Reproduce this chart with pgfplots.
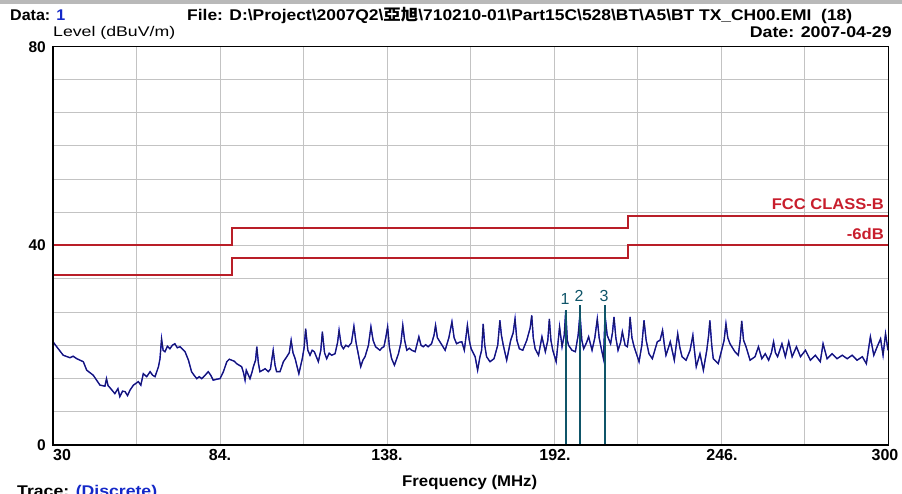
\documentclass[border=0pt]{standalone}
\usepackage{pgfplots}
\pgfplotsset{compat=1.18}
\usepackage{fontspec}
\usepackage{graphicx}
\setmainfont{Liberation Sans}
\newfontfamily\cjk{Noto Sans CJK TC}
\definecolor{limred}{RGB}{185,30,40}
\definecolor{txtred}{RGB}{200,30,45}
\definecolor{trace}{RGB}{25,25,95}
\definecolor{traceb}{RGB}{30,30,220}
\definecolor{mk}{RGB}{15,85,105}
\definecolor{grd}{RGB}{195,195,195}
\definecolor{dblue}{RGB}{20,40,200}
\newcommand{\fitw}[2]{\resizebox{#1}{\height}{#2}}

\pgfplotstableread{
f l
30.0 20.7
31.2 19.7
33.3 18.0
35.5 17.5
36.5 17.8
37.7 17.3
39.8 16.7
40.9 15.0
43.0 14.0
45.2 12.0
46.8 11.8
47.3 13.3
47.8 11.9
48.4 11.5
50.0 10.3
51.0 11.3
51.6 9.7
52.5 10.8
53.3 10.7
54.1 9.9
54.9 11.0
56.0 12.0
57.6 12.7
58.4 12.0
59.2 14.3
60.3 13.7
61.4 14.7
62.2 14.0
63.0 13.7
64.1 15.7
64.6 17.3
65.1 21.3
65.6 19.0
66.2 18.7
67.0 19.8
67.8 19.3
68.6 20.0
69.4 20.3
70.2 19.5
71.1 19.7
72.7 18.7
73.8 17.0
74.8 14.7
75.6 14.0
76.5 13.3
77.3 13.7
78.1 13.3
79.2 14.0
80.2 14.7
81.0 14.0
81.8 13.0
83.0 13.2
84.0 13.3
85.1 14.7
86.2 16.7
87.0 17.2
87.8 17.0
88.6 16.8
89.4 16.3
90.2 16.0
91.0 15.7
91.6 14.5
92.1 13.0
92.5 15.0
93.7 13.3
94.3 14.5
94.8 15.7
95.5 17.0
95.9 19.7
96.4 16.5
96.9 14.7
97.8 15.0
98.6 15.3
99.6 14.7
100.3 15.2
101.2 19.0
101.8 16.0
102.3 14.7
103.4 14.7
104.5 16.7
105.6 17.7
106.4 18.5
107.0 21.0
107.6 18.5
108.3 17.3
109.5 14.3
110.6 17.3
111.2 19.5
111.7 23.3
112.4 19.0
113.1 18.0
113.8 19.0
114.5 18.7
115.8 16.7
116.6 19.0
117.1 22.7
117.8 18.5
118.5 17.3
119.3 18.4
120.1 18.0
121.2 18.3
122.0 20.5
122.5 23.0
123.2 20.0
123.9 19.3
124.7 20.0
125.5 19.7
126.5 20.5
127.3 23.8
128.0 20.5
128.7 18.3
129.5 15.7
130.2 17.0
130.9 17.7
132.0 20.0
132.8 23.7
133.5 21.0
134.3 19.7
135.7 19.0
136.4 19.5
137.0 19.7
137.6 21.5
138.2 23.7
138.8 19.5
139.5 17.3
140.4 16.0
141.7 18.3
142.5 20.5
143.1 24.0
143.7 21.0
144.4 19.0
145.2 19.4
146.0 19.0
147.1 18.7
148.3 21.7
149.0 20.0
149.7 19.7
150.5 20.1
151.3 19.7
152.4 20.3
153.2 22.0
153.7 24.0
154.3 21.5
155.1 20.7
156.0 19.8
156.8 19.0
158.0 21.5
159.0 24.7
159.7 21.5
160.5 20.3
161.4 20.6
162.2 20.7
163.0 19.0
164.0 24.0
164.6 21.0
165.2 19.3
166.5 17.7
167.3 15.0
168.0 17.5
168.6 19.0
169.1 24.3
169.6 20.0
170.2 17.7
171.3 16.7
172.6 17.3
173.8 20.0
174.5 25.0
175.0 22.0
175.6 20.0
176.7 17.0
178.0 21.0
178.8 22.5
179.4 25.3
180.0 21.0
180.8 19.3
181.9 19.0
183.2 21.0
184.3 23.5
184.8 26.0
185.3 21.5
185.9 19.3
187.0 18.0
188.1 21.7
189.2 18.7
190.0 21.0
190.5 25.3
191.0 21.0
191.6 19.0
192.7 16.7
193.8 23.7
194.6 19.7
195.3 22.0
195.8 27.0
196.3 21.0
196.7 20.0
197.8 19.0
198.9 18.7
199.8 22.0
200.4 26.3
201.0 21.0
201.6 19.3
202.5 20.5
203.2 21.7
204.3 19.0
205.2 21.5
206.0 25.3
206.6 21.5
207.3 19.3
208.0 17.3
208.5 26.0
209.2 22.0
210.3 20.3
210.9 22.5
211.4 25.7
212.0 21.5
212.7 19.0
213.5 20.5
214.1 22.7
215.0 20.0
215.7 19.7
216.2 22.0
216.6 25.7
217.2 21.5
217.9 19.7
219.5 16.7
220.4 20.0
221.1 25.0
221.8 21.0
222.7 18.3
223.8 17.3
224.6 19.0
225.4 20.7
226.3 21.0
227.1 23.0
227.7 20.0
228.2 18.0
229.0 19.5
229.6 20.7
230.9 17.0
232.0 22.3
232.7 19.5
233.4 17.7
234.7 17.0
236.0 19.0
236.9 22.0
237.4 19.0
238.0 15.7
239.2 18.3
240.3 15.0
241.4 19.0
242.0 22.0
242.4 25.0
243.0 20.0
243.5 17.3
245.1 16.3
246.2 19.0
247.0 21.0
247.6 24.3
248.2 21.5
248.9 20.3
249.7 19.5
250.5 18.7
251.6 18.0
252.2 21.0
252.7 24.9
253.3 21.0
254.1 19.7
255.4 17.0
257.0 17.7
258.1 19.7
259.2 17.3
260.3 18.3
261.4 17.0
262.3 18.5
263.0 20.7
263.6 18.5
264.3 17.7
265.7 20.3
266.8 17.7
267.9 20.7
269.0 17.7
270.4 19.7
271.7 17.7
273.3 19.0
274.9 17.0
276.5 18.0
278.1 16.7
279.0 20.3
280.3 17.3
281.9 18.3
283.5 17.3
285.2 18.0
286.8 17.3
288.4 18.0
290.0 17.0
291.7 17.7
293.0 16.3
294.3 21.7
295.4 18.0
296.5 19.7
297.6 21.3
298.4 18.0
299.2 22.3
300.0 19.0
}\tracedata

\begin{document}
\begin{tikzpicture}[x=1pt,y=1pt]
\fill[gray!55] (0,489) rectangle (902,493);
\begin{axis}[at={(53pt,48pt)}, anchor=south west,
  width=835pt, height=399pt, scale only axis,
  xmin=30, xmax=300, ymin=0, ymax=80,
  xtick={30,57,84,111,138,165,192,219,246,273,300},
  ytick={0,6.667,13.333,20,26.667,33.333,40,46.667,53.333,60,66.667,73.333,80},
  xticklabels={}, yticklabels={},
  major tick length=0pt,
  grid=major, grid style={grd, line width=0.8pt},
  axis line style={black, line width=0.8pt}]
% FCC Class B limit
\addplot[limred, line width=2.0pt] coordinates {(30,40) (88,40) (88,43.5) (216,43.5) (216,46) (300,46)};
% -6 dB line
\addplot[limred, line width=2.0pt] coordinates {(30,34) (88,34) (88,37.5) (216,37.5) (216,40) (300,40)};
\addplot[traceb, line width=1.4pt] table[x=f, y=l] {\tracedata};
\addplot[trace, line width=0.9pt] table[x=f, y=l] {\tracedata};
\addplot[mk, line width=1.6pt] coordinates {(195.8,0) (195.8,27)};
\addplot[mk, line width=1.6pt] coordinates {(200.4,0) (200.4,28)};
\addplot[mk, line width=1.6pt] coordinates {(208.5,0) (208.5,28)};
\end{axis}
\draw[line width=1.6pt] (53,447) -- (53,48) -- (888,48);
% header texts
\node[anchor=base west, inner sep=0pt] at (10,472) {\fitw{55pt}{\fontsize{15.5}{18}\selectfont\bfseries Data: \textcolor{dblue}{1}}};
\node[anchor=base west, inner sep=0pt] at (187,472) {\fitw{665pt}{\fontsize{15.5}{18}\selectfont\bfseries File: D:\textbackslash Project\textbackslash 2007Q2\textbackslash{\cjk\bfseries 亞旭}\textbackslash 710210-01\textbackslash Part15C\textbackslash 528\textbackslash BT\textbackslash A5\textbackslash BT TX\_CH00.EMI\ \ (18)}};
\node[anchor=base west, inner sep=0pt] at (53,456) {\fitw{122pt}{\fontsize{14}{16}\selectfont Level (dBuV/m)}};
\node[anchor=base east, inner sep=0pt] at (892,455) {\fitw{142pt}{\fontsize{15.5}{18}\selectfont\bfseries Date: 2007-04-29}};
% y tick labels
\node[anchor=east, inner sep=0pt] at (46,446) {\fontsize{15.5}{18}\selectfont\bfseries 80};
\node[anchor=east, inner sep=0pt] at (46,248) {\fontsize{15.5}{18}\selectfont\bfseries 40};
\node[anchor=east, inner sep=0pt] at (46,48) {\fontsize{15.5}{18}\selectfont\bfseries 0};
% x tick labels
\node[anchor=north west, inner sep=0pt] at (53,44) {\fontsize{16}{18}\selectfont\bfseries 30};
\node[anchor=north, inner sep=0pt] at (220,44) {\fontsize{16}{18}\selectfont\bfseries 84.};
\node[anchor=north, inner sep=0pt] at (387,44) {\fontsize{16}{18}\selectfont\bfseries 138.};
\node[anchor=north, inner sep=0pt] at (555,44) {\fontsize{16}{18}\selectfont\bfseries 192.};
\node[anchor=north, inner sep=0pt] at (722,44) {\fontsize{16}{18}\selectfont\bfseries 246.};
\node[anchor=north, inner sep=0pt] at (885,44) {\fontsize{16}{18}\selectfont\bfseries 300};
% axis title
\node[anchor=base west, inner sep=0pt] at (402,7) {\fitw{135pt}{\fontsize{15.5}{18}\selectfont\bfseries Frequency (MHz)}};
\node[anchor=base west, inner sep=0pt] at (17,-3) {\fitw{140pt}{\fontsize{15.5}{18}\selectfont\bfseries Trace: \textcolor{dblue}{(Discrete)}}};
% limit labels
\node[anchor=base east, inner sep=0pt] at (884,283) {\fitw{112pt}{\fontsize{15.5}{18}\selectfont\bfseries\color{txtred} FCC CLASS-B}};
\node[anchor=base east, inner sep=0pt] at (884,253) {\fitw{37pt}{\fontsize{15.5}{18}\selectfont\bfseries\color{txtred} -6dB}};
% marker labels
\node[anchor=base, inner sep=0pt, text=mk] at (565,188) {\fontsize{16}{18}\selectfont 1};
\node[anchor=base, inner sep=0pt, text=mk] at (579,191) {\fontsize{16}{18}\selectfont 2};
\node[anchor=base, inner sep=0pt, text=mk] at (604,191) {\fontsize{16}{18}\selectfont 3};
\pgfresetboundingbox
\useasboundingbox (0,0) rectangle (902,493);
\end{tikzpicture}
\end{document}
